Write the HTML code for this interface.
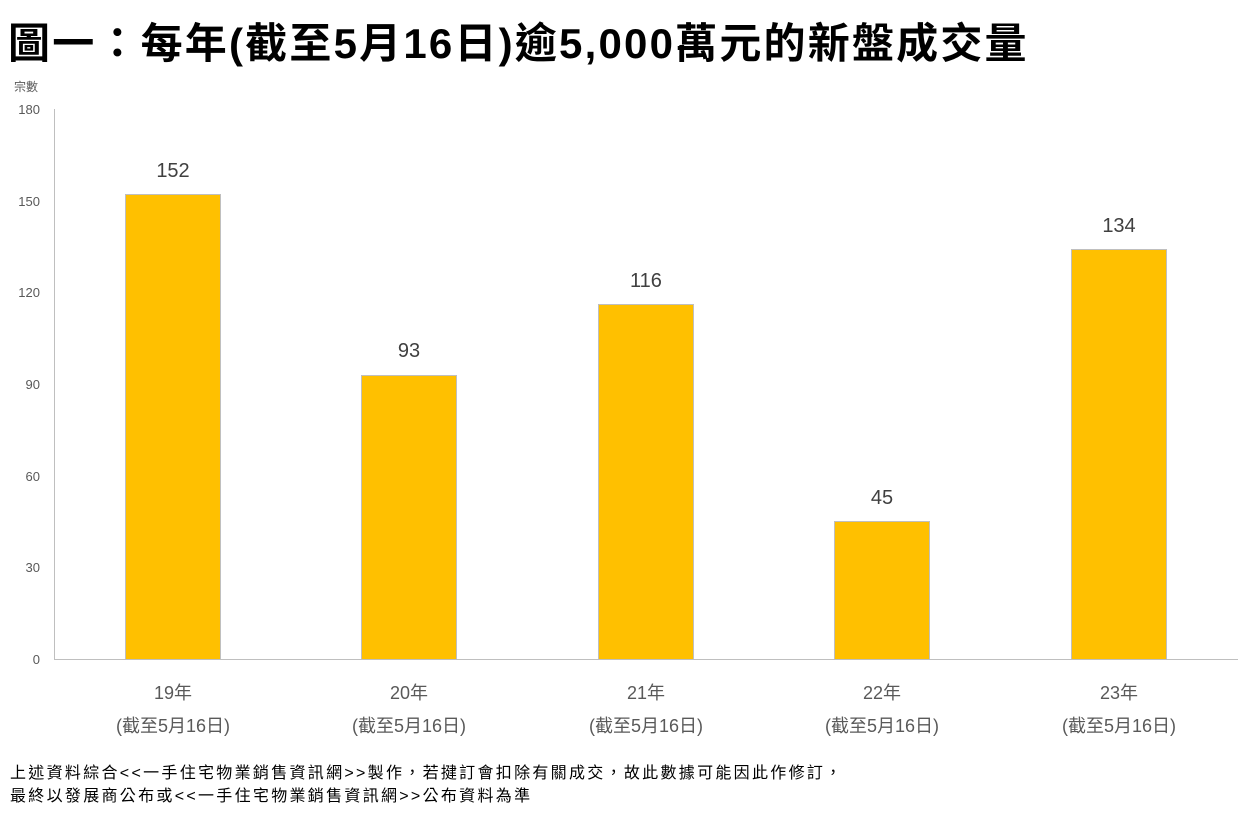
<!DOCTYPE html>
<html><head><meta charset="utf-8"><style>
body{margin:0;width:1249px;height:818px;background:#fff;position:relative;overflow:hidden;font-family:"Liberation Sans","Noto Sans CJK TC",sans-serif}
.a{position:absolute;white-space:nowrap}
.t{left:8px;top:10px;font-size:42px;font-weight:bold;color:#000;letter-spacing:2.2px}
.yl{font-size:13px;color:#595959;width:40px;text-align:right;left:0}
.bar{position:absolute;background:#FFC000;border:1px solid #bfbfbf;border-bottom:none;box-sizing:border-box;width:96px}
.v{font-size:20px;color:#404040;width:120px;text-align:center}
.c{font-size:18px;color:#595959;width:200px;text-align:center}
.f{font-size:16px;color:#000;left:10px;letter-spacing:2.3px}
</style></head><body>
<div class="a t">圖一：每年(截至5月16日)逾5,000萬元的新盤成交量</div>
<div class="a" style="left:14px;top:78px;font-size:12px;color:#595959">宗數</div>
<div class="a yl" style="top:102px">180</div>
<div class="a yl" style="top:194px">150</div>
<div class="a yl" style="top:285px">120</div>
<div class="a yl" style="top:377px">90</div>
<div class="a yl" style="top:469px">60</div>
<div class="a yl" style="top:560px">30</div>
<div class="a yl" style="top:652px">0</div>
<div class="a" style="left:54px;top:109px;width:1px;height:551px;background:#bfbfbf"></div>
<div class="a" style="left:54px;top:659px;width:1184px;height:1px;background:#bfbfbf"></div>

<div class="bar" style="left:125px;top:194px;height:465px"></div>
<div class="bar" style="left:361px;top:375px;height:284px"></div>
<div class="bar" style="left:598px;top:304px;height:355px"></div>
<div class="bar" style="left:834px;top:521px;height:138px"></div>
<div class="bar" style="left:1071px;top:249px;height:410px"></div>

<div class="a v" style="left:113px;top:160px">152</div>
<div class="a v" style="left:349px;top:340px">93</div>
<div class="a v" style="left:586px;top:270px">116</div>
<div class="a v" style="left:822px;top:487px">45</div>
<div class="a v" style="left:1059px;top:215px">134</div>

<div class="a c" style="left:73px;top:679px">19年</div>
<div class="a c" style="left:73px;top:712px">(截至5月16日)</div>
<div class="a c" style="left:309px;top:679px">20年</div>
<div class="a c" style="left:309px;top:712px">(截至5月16日)</div>
<div class="a c" style="left:546px;top:679px">21年</div>
<div class="a c" style="left:546px;top:712px">(截至5月16日)</div>
<div class="a c" style="left:782px;top:679px">22年</div>
<div class="a c" style="left:782px;top:712px">(截至5月16日)</div>
<div class="a c" style="left:1019px;top:679px">23年</div>
<div class="a c" style="left:1019px;top:712px">(截至5月16日)</div>

<div class="a f" style="top:759px">上述資料綜合&lt;&lt;一手住宅物業銷售資訊網&gt;&gt;製作，若揵訂會扣除有關成交，故此數據可能因此作修訂，</div>
<div class="a f" style="top:782px">最終以發展商公布或&lt;&lt;一手住宅物業銷售資訊網&gt;&gt;公布資料為準</div>
</body></html>
